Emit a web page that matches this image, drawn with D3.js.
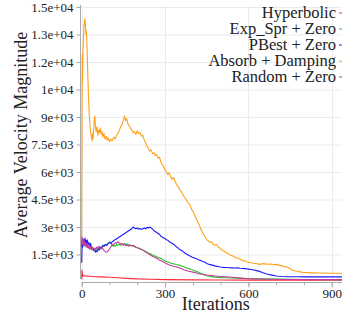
<!DOCTYPE html>
<html><head><meta charset="utf-8">
<script src="https://cdn.jsdelivr.net/npm/d3@7/dist/d3.min.js"></script>
<style>html,body{margin:0;padding:0;background:#fff;overflow:hidden}svg{display:block}</style>
</head><body>
<script>
const seriesNames = ["Hyperbolic", "Exp_Spr + Zero", "PBest + Zero", "Absorb + Damping", "Random + Zero"];
const seriesColors = ["#ff2a3a", "#22c422", "#1a1aff", "#ffa01a", "#c8389c"];

const yTickValues = [1500, 3000, 4500, 6000, 7500, 9000, 10500, 12000, 13500, 15000];
const yTickLabels = ["1.5e+03", "3e+03", "4.5e+03", "6e+03", "7.5e+03", "9e+03", "1e+04", "1.2e+04", "1.3e+04", "1.5e+04"];
const xTickValues = [0, 300, 600, 900];
const xTickLabels = ["0", "300", "600", "900"];

const hypIter = [0,1,2,3,5,8,12,20,30,50,70,100,130,160,200,250,300,400,500,600,800,1000];
const hypVal  = [150,650,500,300,380,340,330,320,310,290,280,260,230,200,170,150,130,115,110,105,100,98];

const expIter = [0,1,2,4,6,8,10,12,14,16,18,20,23,26,29,32,35,38,41,44,47,50,54,58,62,66,70,74,78,82,86,90,94,98,102,106,110,114,118,122,126,130,135,140,145,150,155,160,165,170,175,180,185,190,195,200,205,210,215,220,225,230,235,240,245,250,255,260,265,270,275,280,286,292,298,304,310,316,322,328,334,340,346,352,358,364,370,376,382,388,394,400,406,412,418,424,430,436,442,448,454,460,470,480,490,500,520,540,560,580,600,620,650,700,750,800,900,1000];
const expVal  = [1900,2300,2050,2200,1950,2150,2000,2100,1950,2050,1900,2000,1850,1950,1800,1900,1780,1850,1750,1800,1720,1800,1750,1850,1800,1900,1850,1950,2000,1950,2050,2000,2100,2150,2180,2100,2000,1950,2000,1950,2050,2000,2050,2000,2080,2050,2100,2050,2080,2000,2020,1980,1960,1920,1900,1870,1850,1830,1780,1750,1700,1660,1620,1580,1550,1510,1470,1440,1400,1380,1340,1320,1280,1220,1170,1120,1090,1060,1020,1000,980,950,930,920,890,850,820,780,750,720,680,650,610,580,540,500,460,430,400,360,330,300,280,260,250,240,230,220,210,200,190,180,170,160,150,140,130,125];

const pbIter = [0,1,2,3,4,6,8,10,12,14,16,18,20,23,26,29,32,35,38,41,44,47,50,53,56,60,64,68,72,76,80,85,90,95,100,105,110,115,120,125,130,135,140,145,150,155,160,165,170,175,180,185,190,195,200,205,210,215,220,225,230,235,240,245,250,255,260,265,270,275,280,285,290,295,300,305,310,315,320,326,332,338,344,350,356,362,368,374,380,386,392,398,404,410,416,422,428,434,440,446,452,460,470,480,490,500,510,520,530,540,550,560,570,580,590,600,610,620,630,640,650,660,670,680,690,700,710,720,740,760,780,800,850,900,950,1000];
const pbVal  = [1050,1800,2250,1900,2350,2150,2300,2050,2400,2200,2250,2100,2300,2050,2150,1950,2100,1900,1800,1850,1700,1750,1620,1700,1650,1800,1750,1900,1850,2000,1950,2050,2000,2100,2150,2100,2200,2250,2300,2350,2400,2450,2500,2550,2600,2650,2700,2750,2800,2850,2900,3000,2950,2900,2950,2880,2920,2870,2900,2950,2900,2980,2950,3000,2950,2880,2800,2750,2700,2650,2600,2500,2450,2400,2380,2300,2280,2200,2150,2100,2050,1950,1900,1800,1750,1700,1620,1550,1500,1450,1400,1350,1320,1280,1250,1200,1180,1120,1100,1050,1000,960,920,880,850,820,800,790,780,770,760,770,750,740,730,700,680,650,620,580,520,460,420,390,360,330,310,300,290,285,285,280,280,278,278,275];

const abIter = [0,1,2,3,5,8,11,13,15,17,19,21,23,25,27,29,31,33,35,37,39,41,43,45,47,49,52,55,58,61,64,67,70,73,76,80,84,88,92,96,100,105,110,115,120,125,130,135,140,145,150,154,158,162,166,170,175,180,185,190,195,200,205,210,215,220,225,230,235,240,245,250,255,260,265,270,275,280,285,290,295,300,305,310,315,320,325,330,336,342,348,354,360,366,372,378,384,390,396,402,408,414,420,426,432,438,444,450,456,462,468,474,480,486,492,498,504,510,516,522,528,534,540,546,552,558,564,570,576,582,588,594,600,610,620,630,640,650,660,670,680,690,700,710,720,730,740,750,760,770,780,790,800,815,830,850,870,890,910,930,950,970,1000];
const abVal  = [2300,9000,12400,10900,12800,13900,14350,14100,13500,13700,12900,11800,10800,9900,9200,8700,8300,8100,7900,7700,8100,7800,8300,8800,9050,8600,8200,8450,8000,8300,8150,8400,8050,8200,7900,8100,7800,7950,7750,7850,7650,7800,7700,7900,7800,7950,8100,8250,8450,8600,8800,9050,8800,8900,8650,8550,8400,8300,8150,8200,8050,8250,8100,8150,7950,8000,7750,7600,7400,7300,7150,7200,7000,7050,6900,6950,6750,6800,6550,6400,6300,6100,6000,5850,5950,5750,5600,5700,5500,5300,5200,5000,4900,4700,4600,4450,4300,4200,3950,3800,3600,3400,3200,3000,2800,2600,2450,2300,2250,2150,2200,2050,2000,2050,1900,1850,1750,1700,1650,1580,1550,1480,1450,1400,1350,1300,1300,1250,1200,1150,1150,1100,1080,1050,1020,1000,960,1000,990,970,980,950,960,920,880,840,820,720,640,600,570,540,520,510,500,490,490,480,480,475,470,470,465];

const rzIter = [0,1,2,3,5,7,9,11,13,15,17,19,21,24,27,30,33,36,39,42,45,48,51,54,58,62,66,70,74,78,82,86,90,94,98,102,106,110,114,118,122,126,130,134,138,142,146,150,155,160,165,170,175,180,185,190,195,200,205,210,215,220,225,230,235,240,245,250,255,260,265,270,275,280,286,292,298,304,310,316,322,328,334,340,346,352,358,364,370,376,382,388,394,400,410,420,430,440,450,460,470,480,490,500,520,540,560,580,600,620,640,680,750,850,1000];
const rzVal  = [2000,2450,2300,2050,2350,2100,2250,2000,2150,1950,2100,1900,2050,1850,2000,1800,1950,1750,1900,1800,1750,1850,1800,1900,1850,1950,1850,1800,1900,1750,1700,1640,1620,1680,1750,1850,1950,2050,2000,2100,2150,2100,2200,2150,2100,2050,2100,2000,2050,1980,2020,1950,2000,1960,2000,1950,1900,1870,1830,1800,1780,1740,1690,1640,1590,1540,1500,1450,1400,1370,1320,1290,1250,1200,1160,1110,1060,1010,970,930,900,870,850,830,800,770,740,700,660,630,600,580,560,540,500,450,420,400,380,370,350,330,310,300,285,260,230,200,180,170,160,150,140,130,125];

const W = 342, H = 321;
const svg = d3.select("body").append("svg").attr("width", W).attr("height", H);
const font = "'Liberation Serif', 'Times New Roman', serif";

const x = d3.scaleLinear().domain([0, 1000]).range([81.7, 359.5]);
const y = d3.scaleLinear().domain([0, 15000]).range([282, 7]);

// grid
const grid = svg.append("g");
grid.selectAll("line.h").data(yTickValues).join("line")
  .attr("x1", 81).attr("x2", W).attr("y1", d => y(d) + 0.5).attr("y2", d => y(d) + 0.5)
  .attr("stroke", "#ebebeb").attr("stroke-width", 1);
grid.selectAll("line.v").data(xTickValues).join("line")
  .attr("x1", d => Math.round(x(d)) + 0.5).attr("x2", d => Math.round(x(d)) + 0.5)
  .attr("y1", 6).attr("y2", 280)
  .attr("stroke", "#ebebeb").attr("stroke-width", 1);

// y axis
const yAxis = d3.axisLeft(y).tickValues(yTickValues).tickFormat((d, i) => yTickLabels[i]).tickSize(4).tickPadding(3);
const gy = svg.append("g").attr("transform", "translate(80.5,0)").call(yAxis);
gy.select(".domain").attr("d", "M0,5V279").attr("stroke", "#aaa");
gy.selectAll(".tick line").attr("stroke", "#aaa");
gy.selectAll(".tick text").attr("font-family", font).attr("font-size", 13).attr("fill", "#222");

// x axis
const xMinor = d3.range(0, 1001, 100);
const xAxisMinor = d3.axisBottom(x).tickValues(xMinor).tickFormat("").tickSize(3);
const gxm = svg.append("g").attr("transform", "translate(0,282.5)").call(xAxisMinor);
gxm.select(".domain").remove();
gxm.selectAll(".tick line").attr("stroke", "#aaa");
const xAxis = d3.axisBottom(x).tickValues(xTickValues).tickFormat((d, i) => xTickLabels[i]).tickSize(5).tickPadding(1);
const gx = svg.append("g").attr("transform", "translate(0,282.5)").call(xAxis);
gx.select(".domain").attr("d", "M" + x(0) + ",0H" + x(1000)).attr("stroke", "#aaa");
gx.selectAll(".tick line").attr("stroke", "#aaa");
gx.selectAll(".tick text").attr("font-family", font).attr("font-size", 13).attr("fill", "#222");

// lines
const series = [
  {it: hypIter, v: hypVal},
  {it: expIter, v: expVal},
  {it: pbIter, v: pbVal},
  {it: abIter, v: abVal},
  {it: rzIter, v: rzVal}
];
const line = d3.line().x(d => x(d[0])).y(d => y(d[1]));
svg.append("g").selectAll("path").data(series).join("path")
  .attr("d", s => line(s.it.map((t, i) => [t, s.v[i]])))
  .attr("fill", "none")
  .attr("stroke", (s, i) => seriesColors[i])
  .attr("stroke-width", 1.1)
  .attr("stroke-linejoin", "round");

// axis titles
svg.append("text").attr("x", 215.7).attr("y", 310).attr("text-anchor", "middle")
  .attr("font-family", font).attr("font-size", 18).attr("fill", "#222").text("Iterations");
svg.append("text").attr("transform", "translate(27,135) rotate(-90)").attr("text-anchor", "middle")
  .attr("font-family", font).attr("font-size", 18).attr("fill", "#222").text("Average Velocity Magnitude");

// legend
const lg = svg.append("g");
seriesNames.forEach((n, i) => {
  const cy = 13 + i * 16;
  lg.append("text").attr("x", 336).attr("y", cy + 5).attr("text-anchor", "end")
    .attr("font-family", font).attr("font-size", 16.5).attr("fill", "#222").text(n);
  lg.append("line").attr("x1", 339).attr("x2", 352).attr("y1", cy).attr("y2", cy)
    .attr("stroke", seriesColors[i]).attr("stroke-width", 1);
});
</script>
</body></html>
